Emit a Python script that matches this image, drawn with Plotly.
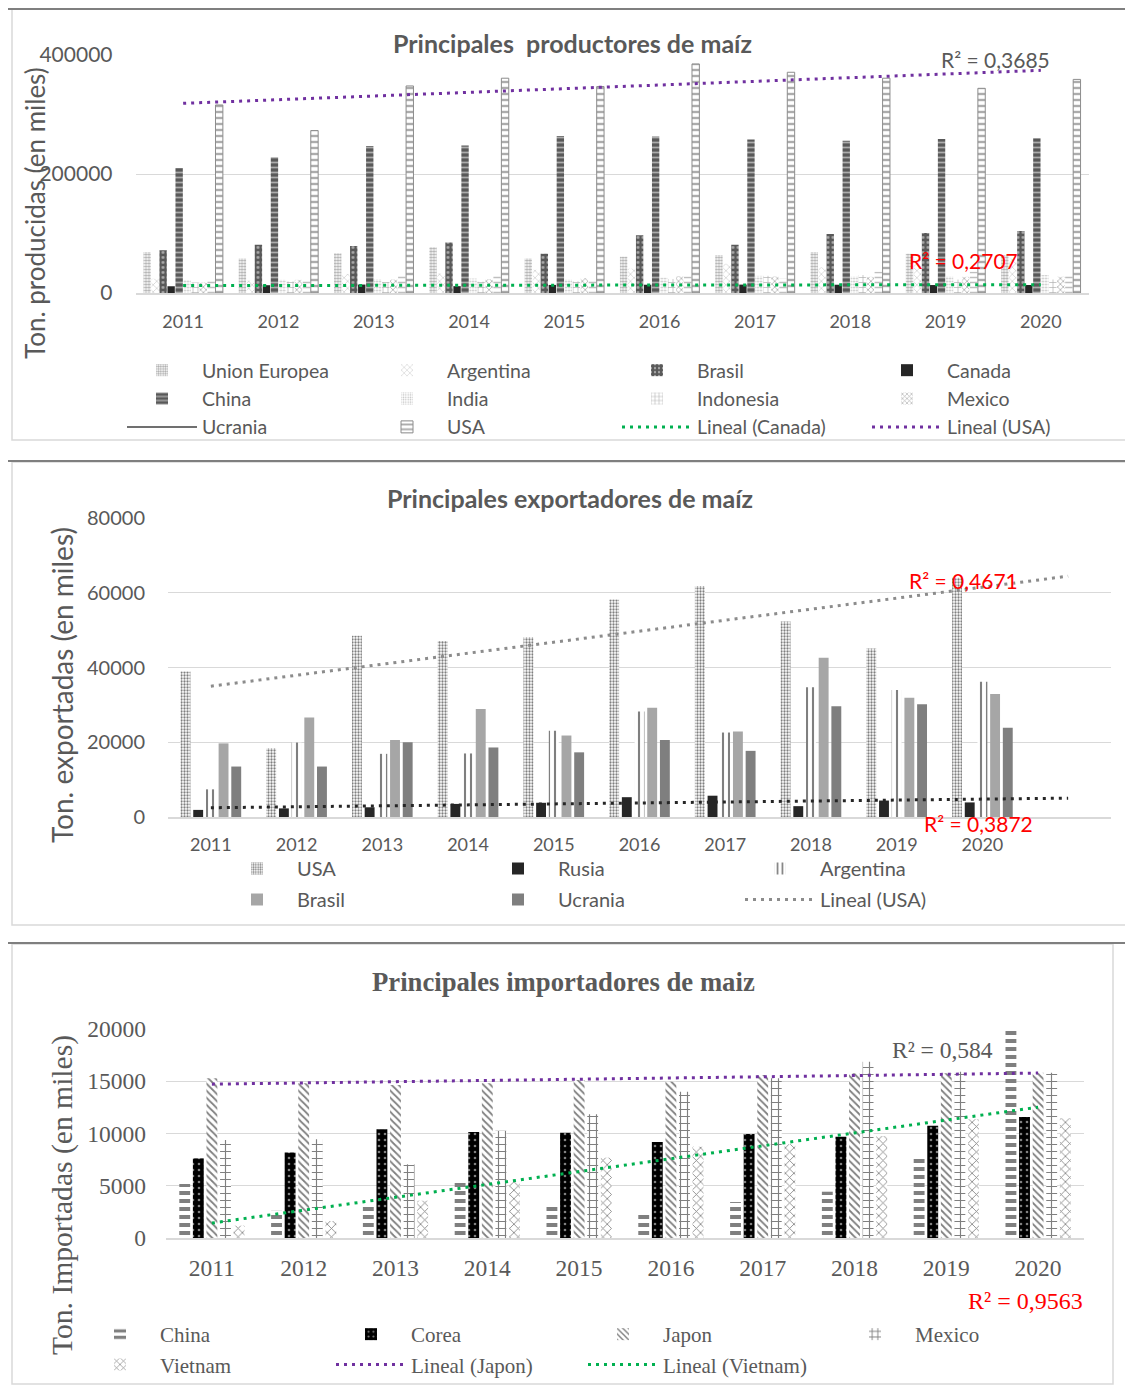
import numpy as np
import plotly.graph_objects as go

W, H = 1133, 1385
OFF = 8  # page body margin in the browser

# ---------------- data ----------------
years = [2011, 2012, 2013, 2014, 2015, 2016, 2017, 2018, 2019, 2020]
year_labels = [str(y) for y in years]

# Chart 1: production (thousand t)
prod_union_europea = [69000, 58000, 67000, 77000, 58000, 61000, 64000, 69000, 66000, 64000]
prod_argentina = [24000, 21000, 32000, 33000, 39000, 41000, 49000, 43000, 57000, 58000]
prod_brasil = [72000, 81000, 79000, 85000, 66000, 97000, 81000, 99000, 101000, 104000]
prod_canada = [11400, 13100, 14200, 11500, 13600, 13900, 14100, 13900, 13400, 13600]
prod_china = [210000, 228000, 247000, 248000, 264000, 263000, 258000, 256000, 259000, 260000]
prod_india = [21800, 22300, 23300, 24300, 22600, 25900, 28800, 27800, 27700, 30200]
prod_indonesia = [17600, 19400, 18500, 19000, 19600, 23600, 28900, 30300, 22600, 22500]
prod_mexico = [17600, 22100, 22700, 23300, 24700, 28300, 27800, 27200, 27200, 27400]
prod_ucrania = [22800, 21000, 31000, 28500, 23300, 28100, 24700, 35800, 35900, 30300]
prod_usa = [316000, 273000, 348000, 361000, 347000, 385000, 371000, 361000, 344000, 359000]
prod_ticks = [0, 200000, 400000]

# Chart 2: exports
exp_usa = [38900, 18400, 48500, 47100, 48100, 58200, 61800, 52300, 45100, 64000]
exp_rusia = [1900, 2300, 2600, 3500, 3800, 5300, 5700, 2900, 4400, 3900]
exp_argentina = [7400, 19900, 16900, 17000, 23100, 28200, 22600, 34700, 34000, 36200]
exp_brasil = [19700, 26600, 20600, 28900, 21800, 29200, 22900, 42600, 31900, 32900]
exp_ucrania = [13500, 13500, 20000, 18600, 17300, 20600, 17700, 29600, 30200, 23900]
exp_ticks = [0, 20000, 40000, 60000, 80000]

# Chart 3: imports
imp_china = [5170, 2600, 3250, 5450, 3130, 2420, 3440, 4430, 7620, 19950]
imp_corea = [7620, 8170, 10400, 10140, 10080, 9190, 9950, 9700, 10750, 11580]
imp_japon = [15280, 14800, 14640, 14800, 15120, 14960, 15600, 15760, 15760, 15820]
imp_mexico = [9380, 9440, 7050, 10270, 11840, 14000, 15280, 16870, 15920, 15820]
imp_vietnam = [1180, 1630, 3570, 5390, 7690, 8740, 8960, 9760, 11360, 11450]
imp_ticks = [0, 5000, 10000, 15000, 20000]

# ---------------- helpers ----------------
def px(x):
    return (x - OFF) / W

def py(y):
    return 1 - (y - OFF) / H

GRAY = "#595959"
SANS = "Lato"
SERIF = "Liberation Serif"

# legend columns (each column is one vertical legend)
leg1 = {"Union Europea": "legend", "China": "legend", "Ucrania": "legend",
        "Argentina": "legend2", "India": "legend2", "USA": "legend2",
        "Brasil": "legend3", "Indonesia": "legend3", "Lineal (Canada)": "legend3",
        "Canada": "legend4", "Mexico": "legend4", "Lineal (USA)": "legend4"}
leg2 = {"USA": "legend5", "Brasil": "legend5",
        "Rusia": "legend6", "Ucrania": "legend6",
        "Argentina": "legend7", "Lineal (USA)": "legend7", "Lineal (Rusia)": "legend7"}
leg3 = {"China": "legend8", "Vietnam": "legend8",
        "Corea": "legend9", "Lineal (Japon)": "legend9",
        "Japon": "legend10", "Lineal (Vietnam)": "legend10",
        "Mexico": "legend11"}


def trend(xs, ys, x_last):
    coef = np.polyfit(xs, ys, 1)
    xt = np.arange(xs[0], x_last + 1)
    return xt, np.polyval(coef, xt)


def bar(name, ys, idx, n, gw, fill, xa, ya, legend, pattern, line=None, showlegend=True, grp=""):
    slot = gw / n
    bw = slot * fill
    off = -gw / 2 + idx * slot + (slot - bw) / 2
    pat = dict(pattern)
    marker = dict(color=pat.pop("color"))
    if pat.get("shape"):
        marker["pattern"] = pat
    marker["line"] = line if line else dict(width=0)
    return go.Bar(x=years, y=ys, name=name, width=bw, offset=off, marker=marker,
                  xaxis=xa, yaxis=ya, legend=legend, showlegend=showlegend,
                  legendgroup=grp + name)


DOT = "3px,5px"


def tline(name, xs, ys, color, xa, ya, legend, showlegend=True, grp=""):
    return go.Scatter(x=xs, y=ys, mode="lines", name=name, showlegend=showlegend,
                      line=dict(color=color, width=3, dash=DOT), xaxis=xa, yaxis=ya,
                      legend=legend, legendgroup=grp + name)


fig = go.Figure()

# ---------------- chart 1 ----------------
n1, gw1, f1 = 10, 0.84, 0.92
specs1 = [
    ("Union Europea", prod_union_europea, dict(color="white", shape=".", fgcolor="#595959", bgcolor="white", size=3, solidity=0.5)),
    ("Argentina", prod_argentina, dict(color="white", shape="x", fgcolor="#7f7f7f", bgcolor="white", size=5, solidity=0.2)),
    ("Brasil", prod_brasil, dict(color="#595959", shape=".", fgcolor="white", bgcolor="#595959", size=5, solidity=0.25)),
    ("Canada", prod_canada, dict(color="#262626")),
    ("China", prod_china, dict(color="#595959", shape="-", fgcolor="white", bgcolor="#595959", size=5, solidity=0.35)),
    ("India", prod_india, dict(color="white", shape=".", fgcolor="#7f7f7f", bgcolor="white", size=3, solidity=0.3)),
    ("Indonesia", prod_indonesia, dict(color="white", shape="+", fgcolor="#595959", bgcolor="white", size=5, solidity=0.25)),
    ("Mexico", prod_mexico, dict(color="white", shape="x", fgcolor="#595959", bgcolor="white", size=4, solidity=0.35)),
    ("Ucrania", prod_ucrania, dict(color="white", shape="-", fgcolor="#7f7f7f", bgcolor="white", size=5, solidity=0.3)),
    ("USA", prod_usa, dict(color="white", shape="-", fgcolor="#595959", bgcolor="white", size=6, solidity=0.4)),
]
for i, (nm, ys, pat) in enumerate(specs1):
    lg = leg1[nm]
    if nm == "Ucrania":
        fig.add_trace(go.Scatter(x=[None], y=[None], mode="lines", name="Ucrania", legendgroup="p_Ucrania",
                                 line=dict(color="#404040", width=1.5), xaxis="x", yaxis="y", legend=lg))
        fig.add_trace(bar(nm, ys, i, n1, gw1, f1, "x", "y", lg, pat, showlegend=False, grp="p_"))
    elif nm == "USA":
        fig.add_trace(bar(nm, ys, i, n1, gw1, f1, "x", "y", lg, pat,
                          line=dict(color="#8c8c8c", width=1), grp="p_"))
    else:
        fig.add_trace(bar(nm, ys, i, n1, gw1, f1, "x", "y", lg, pat, grp="p_"))

xt, yt = trend(years, prod_canada, years[-1])
fig.add_trace(tline("Lineal (Canada)", xt, yt, "#00b050", "x", "y", leg1["Lineal (Canada)"], grp="p_"))
xt, yt = trend(years, prod_usa, years[-1])
fig.add_trace(tline("Lineal (USA)", xt, yt, "#7030a0", "x", "y", leg1["Lineal (USA)"], grp="p_"))

# ---------------- chart 2 ----------------
n2, gw2, f2 = 5, 0.74, 0.78
specs2 = [
    ("USA", exp_usa, dict(color="white", shape=".", fgcolor="black", bgcolor="white", size=3, solidity=0.45)),
    ("Rusia", exp_rusia, dict(color="#262626")),
    ("Argentina", exp_argentina, dict(color="white", shape="|", fgcolor="black", bgcolor="white", size=6, solidity=0.35)),
    ("Brasil", exp_brasil, dict(color="#a6a6a6")),
    ("Ucrania", exp_ucrania, dict(color="#7f7f7f")),
]
for i, (nm, ys, pat) in enumerate(specs2):
    fig.add_trace(bar(nm, ys, i, n2, gw2, f2, "x2", "y2", leg2[nm], pat, grp="e_"))

xt, yt = trend(years, exp_usa, years[-1] + 1)
fig.add_trace(tline("Lineal (USA)", xt, yt, "#8c8c8c", "x2", "y2", leg2["Lineal (USA)"], grp="e_"))
xt, yt = trend(years, exp_rusia, years[-1] + 1)
fig.add_trace(tline("Lineal (Rusia)", xt, yt, "#262626", "x2", "y2", leg2["Lineal (Rusia)"], showlegend=False, grp="e_"))

# ---------------- chart 3 ----------------
n3, gw3, f3 = 5, 0.74, 0.8
specs3 = [
    ("China", imp_china, dict(color="white", shape="-", fgcolor="black", bgcolor="white", size=8, solidity=0.5)),
    ("Corea", imp_corea, dict(color="black", shape=".", fgcolor="white", bgcolor="black", size=6, solidity=0.15)),
    ("Japon", imp_japon, dict(color="white", shape="\\", fgcolor="black", bgcolor="white", size=5, solidity=0.35)),
    ("Mexico", imp_mexico, dict(color="white", shape="+", fgcolor="black", bgcolor="white", size=7, solidity=0.3)),
    ("Vietnam", imp_vietnam, dict(color="white", shape="x", fgcolor="black", bgcolor="white", size=6, solidity=0.25)),
]
for i, (nm, ys, pat) in enumerate(specs3):
    fig.add_trace(bar(nm, ys, i, n3, gw3, f3, "x3", "y3", leg3[nm], pat, grp="i_"))

xt, yt = trend(years, imp_japon, years[-1])
fig.add_trace(tline("Lineal (Japon)", xt, yt, "#7030a0", "x3", "y3", leg3["Lineal (Japon)"], grp="i_"))
xt, yt = trend(years, imp_vietnam, years[-1])
fig.add_trace(tline("Lineal (Vietnam)", xt, yt, "#00b050", "x3", "y3", leg3["Lineal (Vietnam)"], grp="i_"))

# ---------------- axes ----------------
def xax(dom, rng, font, standoff, anchor):
    return dict(domain=dom, range=rng, tickvals=years, ticktext=year_labels, showgrid=False,
                showline=True, linecolor="#d9d9d9", linewidth=1.5, ticks="", zeroline=False,
                tickfont=font, ticklabelstandoff=standoff, fixedrange=True, automargin=False,
                anchor=anchor)


def yax(dom, rng, ticks, font, standoff, anchor):
    return dict(domain=dom, range=rng, tickvals=ticks, tickformat="d", showgrid=True,
                gridcolor="#d9d9d9", gridwidth=1.3, showline=False, zeroline=False, ticks="",
                tickfont=font, ticklabelstandoff=standoff, anchor=anchor, fixedrange=True,
                automargin=False)


f_sans_x = dict(family=SANS, size=18, color=GRAY)
f_sans_y1 = dict(family=SANS, size=21, color=GRAY)
f_sans_y2 = dict(family=SANS, size=20, color=GRAY)
f_serif_tick = dict(family=SERIF, size=23.5, color=GRAY)


def legend_cfg(text_x, top_y, font, gap):
    return dict(orientation="v", x=px(text_x - 80), y=py(top_y), xanchor="left", yanchor="top",
                itemwidth=70, traceorder="grouped", tracegroupgap=gap, bgcolor="rgba(0,0,0,0)",
                font=font, itemclick=False, itemdoubleclick=False)


lf1 = dict(family=SANS, size=19.5, color=GRAY)
lf2 = dict(family=SANS, size=20, color=GRAY)
lf3 = dict(family=SERIF, size=21, color=GRAY)

legends = {}
for k, tx in zip(["legend", "legend2", "legend3", "legend4"], [202, 447, 697, 947]):
    legends[k] = legend_cfg(tx, 351, lf1, 0)
for k, tx in zip(["legend5", "legend6", "legend7"], [297, 558, 820]):
    legends[k] = legend_cfg(tx, 849, lf2, 2)
for k, tx in zip(["legend8", "legend9", "legend10", "legend11"], [160, 411, 663, 915]):
    legends[k] = legend_cfg(tx, 1314, lf3, 0)

fig.update_layout(
    width=W, height=H, margin=dict(l=0, r=0, t=0, b=0, autoexpand=False),
    paper_bgcolor="white", plot_bgcolor="white",
    barmode="overlay", showlegend=True,
    xaxis=xax([px(135.5), px(1088.5)], [2010.5, 2020.5], f_sans_x, 12, "y"),
    yaxis=yax([py(293), py(55)], [0, 400000], prod_ticks, f_sans_y1, 22, "x"),
    xaxis2=xax([px(168), px(1111)], [2010.5, 2021.5], f_sans_x, 11, "y2"),
    yaxis2=yax([py(817), py(518)], [0, 80000], exp_ticks, f_sans_y2, 22, "x2"),
    xaxis3=xax([px(166), px(1084)], [2010.5, 2020.5], f_serif_tick, 8, "y3"),
    yaxis3=yax([py(1238), py(1029)], [0, 20000], imp_ticks, f_serif_tick, 19, "x3"),
    **legends,
)

# ---------------- frames ----------------
shapes = []
for (x0, y0, x1, y1, topy, topx0) in [(12, 9, 1131, 440, 9, 8),
                                      (12, 462, 1131, 925, 461, 8),
                                      (12, 944, 1113, 1384, 943, 8)]:
    shapes.append(dict(type="rect", xref="paper", yref="paper", x0=px(x0), x1=px(x1), y0=py(y1), y1=py(y0),
                       line=dict(color="#d9d9d9", width=1.5), layer="below"))
    shapes.append(dict(type="line", xref="paper", yref="paper", x0=px(topx0), x1=1, y0=py(topy), y1=py(topy),
                       line=dict(color="#7f7f7f", width=2)))
fig.update_layout(shapes=shapes)

# ---------------- annotations ----------------
def ann(text, x, y, font, angle=0, xanchor="center"):
    return dict(text=text, x=px(x), y=py(y), xref="paper", yref="paper", showarrow=False,
                font=font, textangle=angle, xanchor=xanchor, yanchor="middle")

anns = [
    ann("Principales  productores de maíz", 572, 43, dict(family=SANS, size=25, color=GRAY, weight="bold")),
    ann("Ton. producidas (en miles)", 35, 213, dict(family=SANS, size=26, color=GRAY), -90),
    ann("R² = 0,3685", 995, 60, dict(family=SANS, size=21, color=GRAY)),
    ann("R² = 0,2707", 963, 261, dict(family=SANS, size=21, color="#ff0000")),
    ann("Principales exportadores de maíz", 570, 498, dict(family=SANS, size=25, color=GRAY, weight="bold")),
    ann("Ton. exportadas (en miles)", 62, 685, dict(family=SANS, size=28, color=GRAY), -90),
    ann("R² = 0,4671", 963, 580, dict(family=SANS, size=21, color="#ff0000")),
    ann("R² = 0,3872", 978, 823, dict(family=SANS, size=21, color="#ff0000")),
    ann("Principales importadores de maiz", 563, 982, dict(family=SERIF, size=26.7, color=GRAY, weight="bold")),
    ann("Ton. Importadas (en miles)", 62, 1195, dict(family=SERIF, size=29.6, color=GRAY), -90),
    ann("R² = 0,584", 942, 1050, dict(family=SERIF, size=23.5, color=GRAY)),
    ann("R² = 0,9563", 1025, 1301, dict(family=SERIF, size=24, color="#ff0000")),
]
fig.update_layout(annotations=anns)

fig.write_html("out.html")
